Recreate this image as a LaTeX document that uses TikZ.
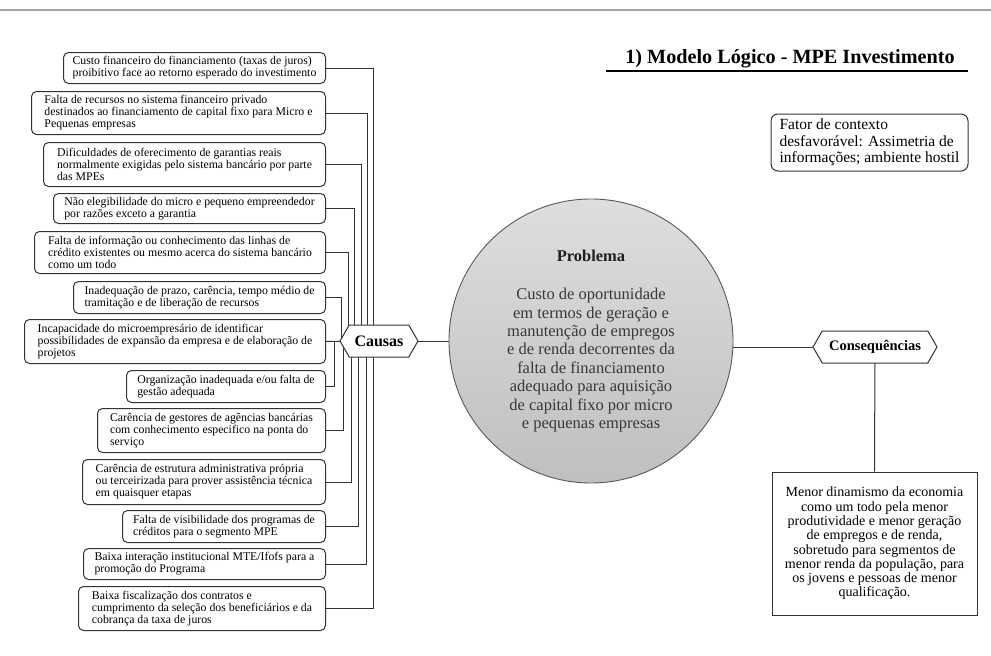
\documentclass[tikz,border=0pt]{standalone}
\usepackage{fontspec}
\setmainfont{Liberation Serif}
\usetikzlibrary{shapes.symbols,backgrounds,calc}

\begin{document}
\begin{tikzpicture}[x=1pt,y=-1pt,
  link/.style={draw=black!80, line width=1pt},
  cause/.style={draw=black!80, line width=1pt, rounded corners=5pt, fill=white,
    font=\fontsize{11.8}{12}\selectfont, align=left, inner xsep=5pt, inner ysep=0pt,
    anchor=north east},
  hexa/.style={signal, signal to=west and east, signal pointer angle=120,
    draw=black!80, line width=1pt, fill=white, minimum height=32pt,
    inner xsep=2pt, inner ysep=0pt},
  textbox/.style={draw=black!80, line width=1pt, fill=white, inner sep=0pt}
]
\useasboundingbox (0,0) rectangle (991,656);

% rule at the top of the page
\draw[gray!70, line width=1.4pt] (0,10) -- (991,10);

% title
\node[anchor=base, font=\fontsize{20.2}{24}\selectfont\bfseries] (title) at (790,63)
  {1) Modelo Lógico - MPE Investimento};
\draw[line width=1.1pt] (606,71) -- (968,71);

% context factor
\node[textbox, rounded corners=7pt, minimum width=197pt, minimum height=57pt,
  align=left, font=\fontsize{15.5}{16.5}\selectfont] (ctx) at (869.5,142.5)
  {Fator de contexto\\desfavorável: Assimetria de\\informações; ambiente hostil};

% central problem
\node[circle, draw=black!65, line width=0.9pt, minimum size=284pt, inner sep=0pt,
  top color=black!13, bottom color=black!25, align=center,
  font=\fontsize{16.5}{18.4}\selectfont, text=black!78] (prob) at (591,341)
  {{\bfseries\color{black!88}Problema}\\[20pt]
   Custo de oportunidade\\em termos de geração e\\manutenção de empregos\\
   e de renda decorrentes da\\falta de financiamento\\adequado para aquisição\\
   de capital fixo por micro\\e pequenas empresas};

% hubs
\node[hexa, minimum width=78pt, font=\fontsize{16}{18}\selectfont\bfseries] (causas) at (379,341) {Causas};
\node[hexa, minimum width=124pt, font=\fontsize{14.5}{16}\selectfont\bfseries] (conseq) at (875,347) {Consequências};

% consequence
\node[textbox, minimum width=205pt, minimum height=143pt, align=center,
  font=\fontsize{14}{14.3}\selectfont] (effect) at (874.5,543.5)
  {Menor dinamismo da economia\\como um todo pela menor\\produtividade e menor geração\\
   de empregos e de renda,\\sobretudo para segmentos de\\menor renda da população, para\\
   os jovens e pessoas de menor\\qualificação.};

% causes
\node[cause, minimum width=262pt, minimum height=31pt] (c1) at (326,52)
  {Custo financeiro do financiamento (taxas de juros)\\proibitivo face ao retorno esperado do investimento};
\node[cause, minimum width=294pt, minimum height=43pt] (c2) at (326,91)
  {Falta de recursos no sistema financeiro privado\\destinados ao financiamento de capital fixo para Micro e\\Pequenas empresas};
\node[cause, minimum width=282pt, minimum height=44pt] (c3) at (326,142)
  {Dificuldades de oferecimento de garantias reais\\normalmente exigidas pelo sistema bancário por parte\\das MPEs};
\node[cause, minimum width=272pt, minimum height=30pt] (c4) at (326,193)
  {Não elegibilidade do micro e pequeno empreendedor\\por razões exceto a garantia};
\node[cause, minimum width=291pt, minimum height=42pt] (c5) at (326,231)
  {Falta de informação ou conhecimento das linhas de\\crédito existentes ou mesmo acerca do sistema bancário\\como um todo};
\node[cause, minimum width=252pt, minimum height=32pt] (c6) at (326,281)
  {Inadequação de prazo, carência, tempo médio de\\tramitação e de liberação de recursos};
\node[cause, minimum width=301pt, minimum height=44pt] (c7) at (326,319)
  {Incapacidade do microempresário de identificar\\possibilidades de expansão da empresa e de elaboração de\\projetos};
\node[cause, minimum width=199pt, minimum height=32pt] (c8) at (326,370)
  {Organização inadequada e/ou falta de\\gestão adequada};
\node[cause, minimum width=228pt, minimum height=44pt] (c9) at (326,408)
  {Carência de gestores de agências bancárias\\com conhecimento especifico na ponta do\\serviço};
\node[cause, minimum width=243pt, minimum height=45pt] (c10) at (326,459)
  {Carência de estrutura administrativa própria\\ou terceirizada para prover assistência técnica\\em quaisquer etapas};
\node[cause, minimum width=203pt, minimum height=32pt] (c11) at (326,510)
  {Falta de visibilidade dos programas de\\créditos para o segmento MPE};
\node[cause, minimum width=242pt, minimum height=31pt] (c12) at (326,548)
  {Baixa interação institucional MTE/Ifofs para a\\promoção do Programa};
\node[cause, minimum width=247pt, minimum height=44pt] (c13) at (326,586)
  {Baixa fiscalização dos contratos e\\cumprimento da seleção dos beneficiários e da\\cobrança da taxa de juros};

% connectors, behind the shapes
\begin{pgfonlayer}{background}
  \draw[link] (c1.east)  -| ([xshift=-6pt]causas.center);
  \draw[link] (c2.east)  -| ([xshift=-12pt]causas.center);
  \draw[link] (c3.east)  -| ([xshift=-18pt]causas.center);
  \draw[link] (c4.east)  -| ([xshift=-25pt]causas.center);
  \draw[link] (c5.east)  -| ([xshift=-31pt]causas.center);
  \draw[link] (c6.east)  -| ([xshift=-38pt]causas.center);
  \draw[link] (c7.east)  -- (causas.center);
  \draw[link] (c8.east)  -| ([xshift=-45pt]causas.center);
  \draw[link] (c9.east)  -| ([xshift=-36pt]causas.center);
  \draw[link] (c10.east) -| ([xshift=-28pt]causas.center);
  \draw[link] (c11.east) -| ([xshift=-21pt]causas.center);
  \draw[link] (c12.east) -| ([xshift=-13pt]causas.center);
  \draw[link] (c13.east) -| ([xshift=-6pt]causas.center);
  \draw[link] (causas.center) -- (causas.center -| prob.center);
  \draw[link] (conseq.center -| prob.center) -- (conseq.center);
  \draw[link] (conseq.center) -- (effect.north);
\end{pgfonlayer}
\end{tikzpicture}
\end{document}
